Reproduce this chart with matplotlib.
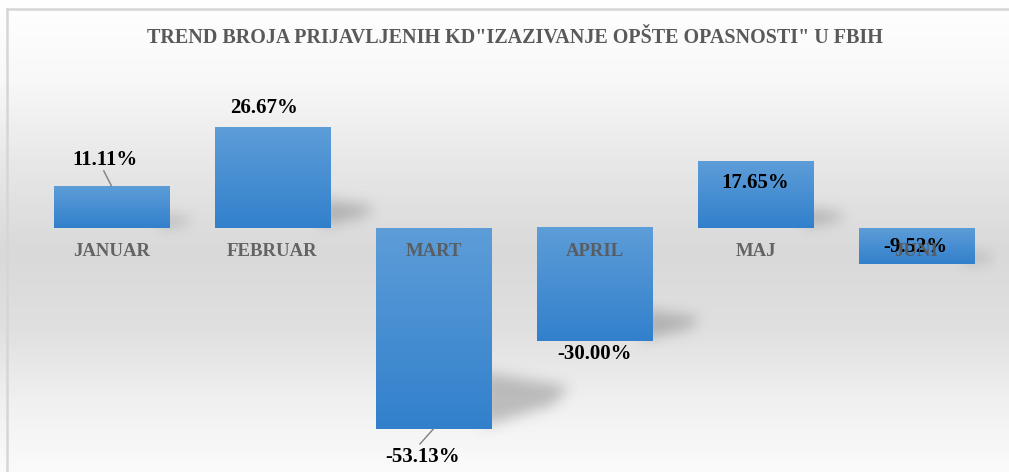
import numpy as np
import matplotlib.pyplot as plt
from matplotlib.path import Path

# data
months = ["JANUAR", "FEBRUAR", "MART", "APRIL", "MAJ", "JUNI"]
trend = [11.11, 26.67, -53.13, -30.00, 17.65, -9.52]
title = 'TREND BROJA PRIJAVLJENIH KD"IZAZIVANJE OPŠTE OPASNOSTI" U FBIH'

# where each value label sits, relative to its bar (x offset, y offset in %)
label_offsets = [(-0.04, 6.9), (-0.05, 5.0), (-0.07, -7.5), (0.0, -3.3), (0.0, -5.7), (-0.01, 4.5)]
leaders = {0: True, 2: True}

SERIF = ["Liberation Serif", "DejaVu Serif"]
W, H = 1009, 472
YLIM = (-60, 35)


def blur(a, r):
    k = np.ones(2 * r + 1) / (2 * r + 1)
    for _ in range(3):
        a = np.apply_along_axis(lambda m: np.convolve(m, k, mode="same"), 0, a)
        a = np.apply_along_axis(lambda m: np.convolve(m, k, mode="same"), 1, a)
    return a


def main():
    fig = plt.figure(figsize=(W / 100, H / 100), dpi=100)

    # background gradient + frame
    bg = fig.add_axes([0, 0, 1, 1], zorder=-10)
    ypx = np.arange(H)
    g = np.interp(ypx, [0, 15, 80, 160, 250, 330, 400, 472],
                  [255, 254, 248, 232, 217, 224, 240, 251]) / 255.0
    img = np.repeat(g[:, None], 4, axis=1)
    img = np.dstack([img, img, img])
    bg.imshow(img, extent=[0, W, H, 0], aspect="auto")
    bg.set_xlim(0, W)
    bg.set_ylim(H, 0)
    bg.plot([7, W + 5], [8.5, 8.5], color="#d6d6d6", lw=1.8)
    bg.plot([7, 7], [8.5, H + 5], color="#d6d6d6", lw=1.8)
    bg.axis("off")

    left, right = 31 / W, 997 / W
    top_px = 228 - YLIM[1] * 3.78
    bot_px = 228 - YLIM[0] * 3.78
    ax = fig.add_axes([left, 1 - bot_px / H, right - left, (bot_px - top_px) / H])
    ax.set_xlim(-0.5, len(months) - 0.5)
    ax.set_ylim(*YLIM)
    ax.patch.set_alpha(0)
    ax.axis("off")

    x = np.arange(len(months))
    bars = ax.bar(x, trend, width=0.715, color="#4a90d4", zorder=2)

    # soft shadows behind bars
    nx, ny = 966, 360
    gx = np.linspace(-0.5, len(months) - 0.5, nx)
    gy = np.linspace(YLIM[0], YLIM[1], ny)
    XX, YY = np.meshgrid(gx, gy)
    pts = np.c_[XX.ravel(), YY.ravel()]
    mask = np.zeros(XX.size)
    for b in bars:
        x1 = b.get_x() + b.get_width()
        yb = b.get_y() if b.get_height() > 0 else b.get_y() + b.get_height()
        h = abs(b.get_height())
        dx = 0.008 * h + 0.06
        quad = Path([(x1 - 0.05, yb + 0.01 * h), (x1 - 0.05, yb + 0.28 * h),
                     (x1 + dx, yb + 0.21 * h), (x1 + dx * 0.8, yb + 0.12 * h)])
        mask = np.maximum(mask, quad.contains_points(pts))
    mask = blur(mask.reshape(XX.shape), 6)
    shadow = np.zeros((ny, nx, 4))
    shadow[..., :3] = 0.4
    shadow[..., 3] = mask * 0.38
    ax.imshow(shadow, extent=[gx[0], gx[-1], gy[0], gy[-1]], origin="lower",
              aspect="auto", zorder=1, interpolation="bilinear")

    # gradient fill on each bar
    top_c = np.array([93, 157, 216]) / 255
    bot_c = np.array([50, 128, 204]) / 255
    t = np.linspace(0, 1, 100)[:, None]
    grad = (top_c * (1 - t) + bot_c * t)[:, None, :]
    for b in bars:
        x0, y0 = b.get_x(), b.get_y()
        y1 = y0 + b.get_height()
        ax.imshow(grad, extent=[x0, x0 + b.get_width(), min(y0, y1), max(y0, y1)],
                  origin="upper", aspect="auto", zorder=3)
    ax.set_xlim(-0.5, len(months) - 0.5)
    ax.set_ylim(*YLIM)

    # value labels
    for i, v in enumerate(trend):
        dxo, dyo = label_offsets[i]
        ly = v + dyo
        ax.text(i + dxo, ly, f"{v:.2f}%", ha="center", va="center",
                fontsize=15, fontweight="bold", family=SERIF, color="black", zorder=5)
        if leaders.get(i):
            sgn = 1 if v > 0 else -1
            ax.plot([i, i + dxo * 1.2], [v, v + sgn * 4.0], color="#7f7f7f", lw=1, zorder=4)

    # category labels sit just under the zero line
    for i, m in enumerate(months):
        ax.text(i, -6.1, m, ha="center", va="center", fontsize=13.5,
                fontweight="bold", family=SERIF, color="#595959", alpha=0.92, zorder=6)

    fig.text(515 / W, 1 - 38 / H, title, ha="center", va="center", fontsize=14.5,
             fontweight="bold", family=SERIF, color="#595959")

    fig.savefig("out.png", dpi=100)


if __name__ == "__main__":
    main()
